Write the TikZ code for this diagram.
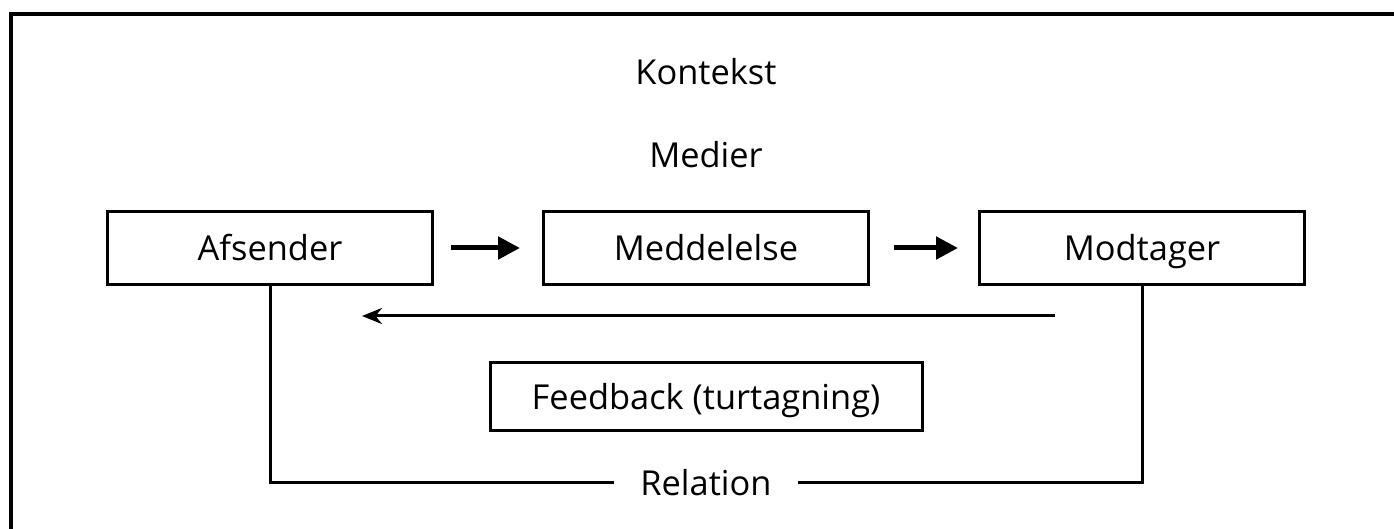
\documentclass[tikz,border=0pt]{standalone}
\usepackage{fontspec}
\setmainfont{Open Sans}
\usetikzlibrary{positioning,arrows.meta}
\tikzset{
  label/.style={font=\fontsize{17.2}{20}\selectfont, text height=12.2pt, text depth=0pt},
  box/.style={draw, line width=1.5pt, minimum width=162.5pt, minimum height=36.5pt, inner sep=0pt},
  bigarrow/.style={-{Triangle[length=11pt,width=11pt]}, line width=2.5pt},
}
\begin{document}
\begin{tikzpicture}[x=0.5pt, y=-0.5pt, every node/.style={label}]
  \useasboundingbox (0,0) rectangle (1394,529);
  % frame
  \draw[line width=2pt] (11,529) -- (11,14) -- (1394,14);

  \node (kontekst) at (706,72) {Kontekst};
  \node (medier) at (706,155) {Medier};

  \node[box] (meddelelse) at (706,248) {Meddelelse};
  \node[box, left=54pt of meddelelse] (afsender) {Afsender};
  \node[box, right=54pt of meddelelse] (modtager) {Modtager};

  \draw[bigarrow, shorten <=8.5pt, shorten >=11pt] (afsender) -- (meddelelse);
  \draw[bigarrow, shorten <=12pt, shorten >=10pt] (meddelelse) -- (modtager);

  \coordinate (fbstart) at (1055,316);
  \coordinate (fbend) at (362,316);
  \draw[-{Stealth[length=10pt,width=8pt]}, line width=1.5pt] (fbstart) -- (fbend);

  \node[box, minimum width=216pt, minimum height=34pt] (feedback) at (706,397) {Feedback (turtagning)};

  \node[inner xsep=13pt] (relation) at (706,483) {Relation};
  \draw[line width=1.5pt] (afsender.south) |- (relation.west);
  \draw[line width=1.5pt] (relation.east) -| (modtager.south);
\end{tikzpicture}
\end{document}
